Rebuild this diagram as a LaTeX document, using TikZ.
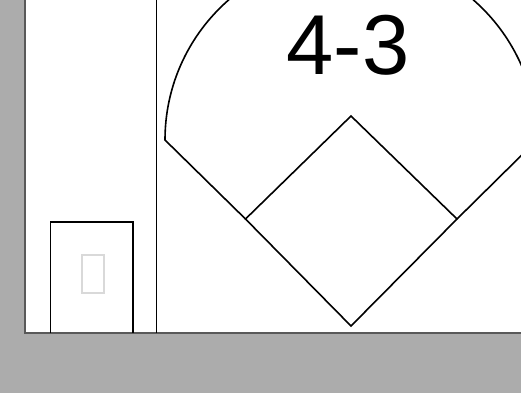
\documentclass[tikz,border=0pt]{standalone}
\usepackage{fontspec}
\setmainfont{Liberation Sans}
\begin{document}
\begin{tikzpicture}[x=1pt,y=-1pt,
  field/.style={draw=black,line width=1.6pt,line join=miter},
  frame/.style={draw=black!65,line width=1.2pt,fill=white}]
\fill[gray!65] (0,0) rectangle (521,393);
\useasboundingbox (0,0) rectangle (521,393);
\begin{scope}
\clip (0,0) rectangle (521,393);
\filldraw[frame] (25,-5) rectangle (530,333);
% dugout / left strip
\draw[field] (156.5,0) -- (156.5,333);
\draw[field] (50.5,333) -- (50.5,222) -- (133,222) -- (133,333);
\draw[draw=black!15,line width=1.4pt] (82,255) rectangle (104,293);
% field
\coordinate (home) at (351,326);
\coordinate (first) at (457,219);
\coordinate (second) at (351,116);
\coordinate (third) at (245.5,219);
\coordinate (lf) at (165,140);
\coordinate (rf) at (537,140);
\draw[field] (home) -- (first) -- (second) -- (third) -- cycle;
\draw[field] (third) -- (lf) arc[start angle=180,end angle=360,radius=186] -- (first);
\node[font=\fontsize{85}{85}\selectfont,inner sep=0pt] (score) at (348,45) {4-3};
\end{scope}
\end{tikzpicture}
\end{document}
